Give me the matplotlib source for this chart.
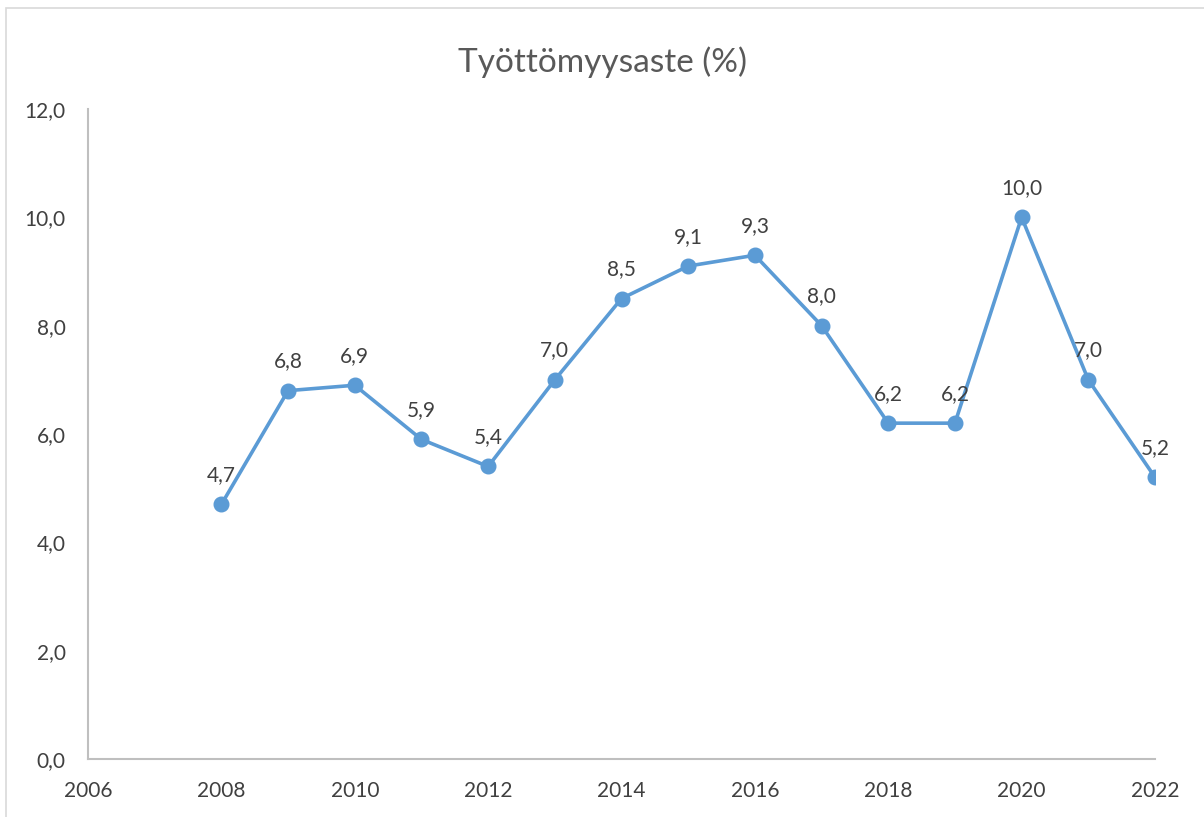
import matplotlib.pyplot as plt
from matplotlib.patches import Rectangle
from matplotlib.ticker import FuncFormatter

plt.rcParams.update({'font.family': ['Lato', 'DejaVu Sans']})

years = [2008, 2009, 2010, 2011, 2012, 2013, 2014, 2015,
         2016, 2017, 2018, 2019, 2020, 2021, 2022]
rate = [4.7, 6.8, 6.9, 5.9, 5.4, 7.0, 8.5, 9.1,
        9.3, 8.0, 6.2, 6.2, 10.0, 7.0, 5.2]

LINE_C = '#5B9BD5'
TXT_C = '#404040'
GRID_C = '#BFBFBF'

fig = plt.figure(figsize=(12.04, 8.17), dpi=100)
ax = fig.add_axes([0.0731, 0.0710, 0.8862, 0.7956])

ax.plot(years, rate, color=LINE_C, lw=2.6, marker='o', ms=10.5, zorder=3)
for x, y in zip(years, rate):
    ax.annotate(f'{y:.1f}'.replace('.', ','), (x, y), xytext=(0, 14),
                textcoords='offset points', ha='center', va='bottom',
                fontsize=15, color=TXT_C)

ax.set_xlim(2006, 2022)
ax.set_ylim(0, 12)
ax.set_xticks(range(2006, 2023, 2))
ax.set_yticks(range(0, 13, 2))
ax.yaxis.set_major_formatter(FuncFormatter(lambda v, p: f'{v:.1f}'.replace('.', ',')))
ax.tick_params(length=0, labelsize=15, labelcolor=TXT_C)
ax.tick_params(axis='y', pad=16)
ax.tick_params(axis='x', pad=16)
for s in ['top', 'right']:
    ax.spines[s].set_visible(False)
for s in ['left', 'bottom']:
    ax.spines[s].set_color(GRID_C)
    ax.spines[s].set_linewidth(1.5)

fig.text(0.5, 0.924, 'Työttömyysaste (%)', ha='center', va='center',
         fontsize=24, color='#595959')
fig.patches.append(Rectangle((6 / 1204, -0.01), 1.0, 1.0 - 8 / 817 + 0.01,
                             transform=fig.transFigure, fill=False,
                             edgecolor='#D9D9D9', lw=1.2))

fig.savefig('out.png', dpi=100)
